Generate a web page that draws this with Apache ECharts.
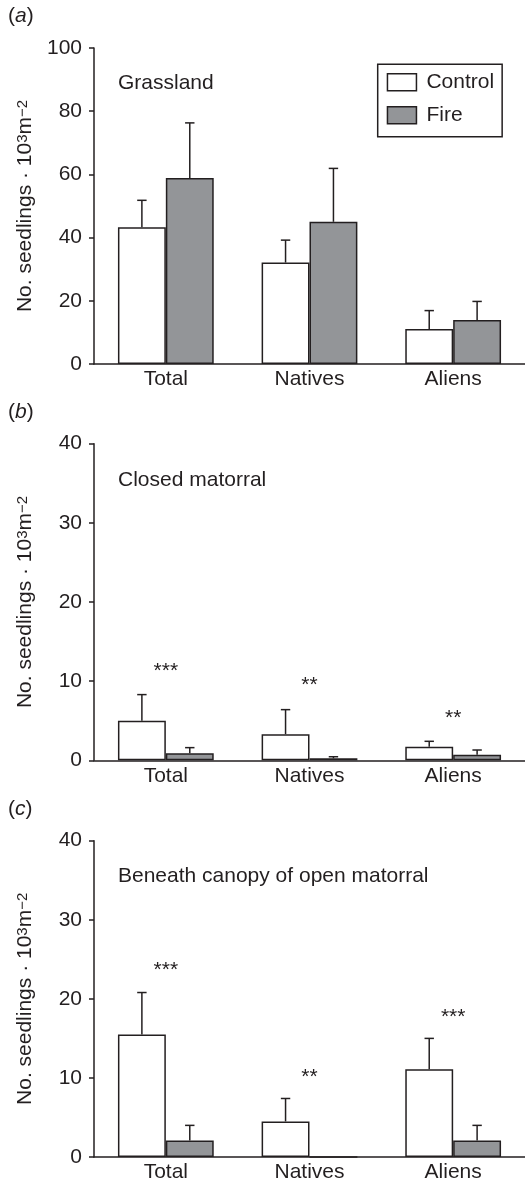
<!DOCTYPE html>
<html>
<head>
<meta charset="utf-8">
<script src="https://cdn.jsdelivr.net/npm/echarts@6/dist/echarts.min.js"></script>
<style>
html,body{margin:0;padding:0;background:#fff;}
#chart{width:525px;height:1184px;}
</style>
</head>
<body>
<div id="chart"></div>
<script>
// ---------- data ----------
const categories = ['Total', 'Natives', 'Aliens'];
const seriesNames = ['Control', 'Fire'];

// Panel (a) Grassland
const aControl = [43.3, 32.1, 11.1];
const aControlUpper = [51.8, 39.2, 16.9];
const aFire = [58.9, 45.0, 13.9];
const aFireUpper = [76.3, 61.9, 19.8];

// Panel (b) Closed matorral
const bControl = [5.0, 3.3, 1.7];
const bControlUpper = [8.3, 6.4, 2.4];
const bFire = [0.9, 0.25, 0.7];
const bFireUpper = [1.6, 0.45, 1.3];
const bSig = ['***', '**', '**'];
const bSigY = [11.2, 9.55, 5.35];

// Panel (c) Beneath canopy of open matorral
const cControl = [15.5, 4.5, 11.1];
const cControlUpper = [20.8, 7.4, 15.0];
const cFire = [2.1, 0, 2.1];
const cFireUpper = [4.0, 0, 4.0];
const cSig = ['***', '**', '***'];
const cSigY = [23.6, 10.1, 17.7];

const panelLabels = ['a', 'b', 'c'];
const panelTitles = ['Grassland', 'Closed matorral', 'Beneath canopy of open matorral'];
const yMax = [100, 40, 40];
const yInterval = [20, 10, 10];

// ---------- styles ----------
const INK = '#231f20';
const GREY = '#939598';
const FONT = '"Liberation Sans", Arial, Helvetica, sans-serif';
const FS = 21;

const grids = [
  { left: 94, top: 48, width: 432, height: 316 },
  { left: 94, top: 443.7, width: 432, height: 316.6 },
  { left: 94, top: 840.7, width: 432, height: 316.3 }
];

const panels = [
  { control: aControl, controlUp: aControlUpper, fire: aFire, fireUp: aFireUpper, sig: null, sigY: null },
  { control: bControl, controlUp: bControlUpper, fire: bFire, fireUp: bFireUpper, sig: bSig, sigY: bSigY },
  { control: cControl, controlUp: cControlUpper, fire: cFire, fireUp: cFireUpper, sig: cSig, sigY: cSigY }
];

const xAxes = [], yAxes = [], series = [];

panels.forEach((p, i) => {
  xAxes.push({
    type: 'category', gridIndex: i, data: categories,
    axisLine: { lineStyle: { color: INK, width: 1.5 } },
    axisTick: { show: false },
    axisLabel: { fontSize: FS, color: INK, fontFamily: FONT, margin: 5 }
  });
  yAxes.push({
    type: 'value', gridIndex: i, min: 0, max: yMax[i], interval: yInterval[i],
    axisLine: { show: true, lineStyle: { color: INK, width: 1.5 } },
    axisTick: { show: true, length: 5, lineStyle: { color: INK, width: 1.5 } },
    axisLabel: { fontSize: FS, color: INK, fontFamily: FONT, margin: 12 },
    splitLine: { show: false },
    name: 'No. seedlings · 10{sup|3}m{sup|−2}',
    nameLocation: 'middle', nameRotate: 90, nameGap: 58,
    nameTextStyle: {
      fontSize: FS, color: INK, fontFamily: FONT,
      rich: { sup: { fontSize: 15, color: INK, fontFamily: FONT, verticalAlign: 'top' } }
    }
  });
  const bar = (name, data, color) => ({
    type: 'bar', name, xAxisIndex: i, yAxisIndex: i, data,
    barGap: '0%', barCategoryGap: '33.33%',
    itemStyle: { color, borderColor: INK, borderWidth: 1.5 },
    emphasis: { disabled: true }, animation: false
  });
  series.push(bar('Control', p.control, '#ffffff'));
  series.push(bar('Fire', p.fire, GREY));

  const errData = [];
  categories.forEach((c, k) => {
    errData.push([k, p.control[k], p.controlUp[k], -1]);
    errData.push([k, p.fire[k], p.fireUp[k], 1]);
  });
  series.push({
    type: 'custom', name: 'err' + i, xAxisIndex: i, yAxisIndex: i, data: errData,
    z: 3, animation: false, silent: true,
    renderItem: (params, api) => {
      const k = api.value(0), m = api.value(1), u = api.value(2), side = api.value(3);
      if (!(u > m)) return null;
      const bw = api.size([1, 0])[0];
      const base = api.coord([k, m]);
      const top = api.coord([k, u]);
      const x = base[0] + side * bw / 6;
      const st = { stroke: INK, lineWidth: 1.5 };
      return {
        type: 'group', children: [
          { type: 'line', shape: { x1: x, y1: base[1], x2: x, y2: top[1] }, style: st },
          { type: 'line', shape: { x1: x - 4.7, y1: top[1], x2: x + 4.7, y2: top[1] }, style: st }
        ]
      };
    }
  });

  if (p.sig) {
    const sigData = categories.map((c, k) => [k, p.sigY[k], p.sig[k]]);
    series.push({
      type: 'custom', name: 'sig' + i, xAxisIndex: i, yAxisIndex: i, data: sigData,
      z: 4, animation: false, silent: true,
      renderItem: (params, api) => {
        const pt = api.coord([api.value(0), api.value(1)]);
        return {
          type: 'text', x: pt[0], y: pt[1],
          style: { text: sigData[params.dataIndex][2], fill: INK, font: FS + 'px ' + FONT, align: 'center', verticalAlign: 'middle' }
        };
      }
    });
  }
});

const labelY = [18, 414, 811];
const titleY = [83, 480, 876.7];
const graphics = [];
panelLabels.forEach((l, i) => {
  graphics.push({
    type: 'text', left: 8, top: labelY[i] - 12,
    style: {
      text: '({i|' + l + '})', fill: INK, font: FS + 'px ' + FONT,
      rich: { i: { fontStyle: 'italic', fontSize: FS, fontFamily: FONT, fill: INK } }
    }
  });
  graphics.push({
    type: 'text', x: 118, y: titleY[i],
    style: { text: panelTitles[i], fill: INK, font: FS + 'px ' + FONT, verticalAlign: 'middle' }
  });
});

const chart = echarts.init(document.getElementById('chart'), null, { renderer: 'canvas' });
chart.setOption({
  animation: false,
  backgroundColor: '#ffffff',
  grid: grids,
  xAxis: xAxes,
  yAxis: yAxes,
  series,
  legend: {
    data: seriesNames.map(n => ({ name: n, icon: 'rect' })),
    left: 377.7, top: 64.3, orient: 'vertical',
    itemWidth: 29, itemHeight: 17, itemGap: 12,
    padding: [7.5, 8, 11, 9],
    borderColor: INK, borderWidth: 1.5,
    itemStyle: { borderColor: INK, borderWidth: 1.5 },
    textStyle: { fontSize: FS, color: INK, fontFamily: FONT, lineHeight: 21, padding: [0, 0, 0, 5] },
    selectedMode: false
  },
  graphic: graphics
});
</script>
</body>
</html>
